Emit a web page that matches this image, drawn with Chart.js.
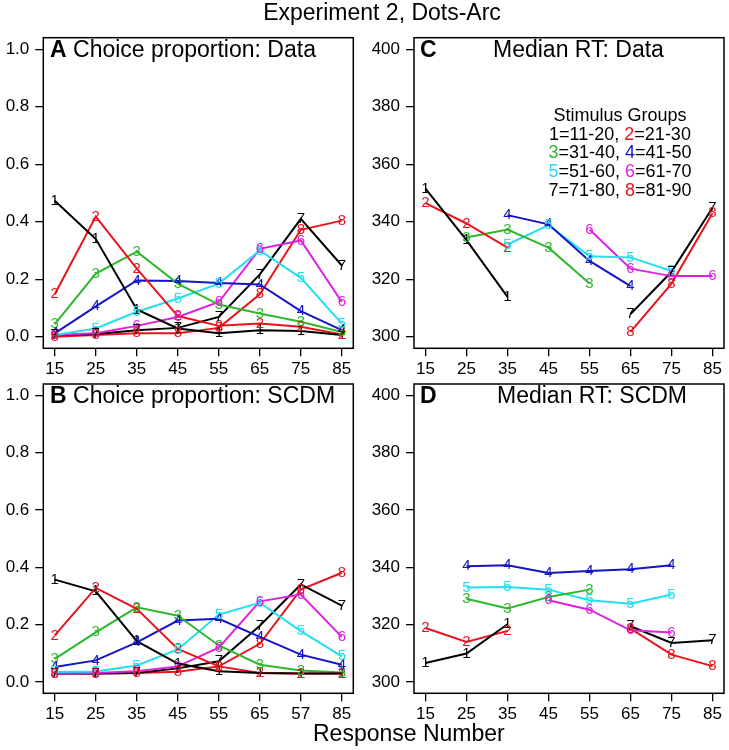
<!DOCTYPE html>
<html><head><meta charset="utf-8">
<script src="https://cdn.jsdelivr.net/npm/chart.js@4.4.1/dist/chart.umd.min.js"></script>
<style>
html,body{margin:0;padding:0;background:#fff}
body{width:729px;height:750px;position:relative;overflow:hidden;font-family:"Liberation Sans",Arial,sans-serif}
canvas{position:absolute;left:0;top:0}
.t{position:absolute;white-space:nowrap;color:#000;line-height:1}
.lg{position:absolute;left:520px;width:200px;text-align:center;font-size:18px;line-height:1;white-space:nowrap}
</style></head><body>
<canvas id="pA" width="729" height="750"></canvas>
<canvas id="pC" width="729" height="750"></canvas>
<canvas id="pB" width="729" height="750"></canvas>
<canvas id="pD" width="729" height="750"></canvas>

<div class="t" style="left:0;width:764px;text-align:center;top:0.5px;font-size:23px">Experiment 2, Dots-Arc</div>
<div class="t" style="left:50px;top:37.5px;font-size:23px"><b>A</b> Choice proportion: Data</div>
<div class="t" style="left:420px;top:37.5px;font-size:23px"><b>C</b></div>
<div class="t" style="left:493px;top:37.5px;font-size:23px">Median RT: Data</div>
<div class="t" style="left:50px;top:383.5px;font-size:23px"><b>B</b> Choice proportion: SCDM</div>
<div class="t" style="left:420px;top:383.5px;font-size:23px"><b>D</b></div>
<div class="t" style="left:497px;top:383.5px;font-size:23px">Median RT: SCDM</div>
<div class="t" style="left:313px;top:722px;font-size:23px">Response Number</div>

<div class="lg" style="top:105.8px">Stimulus Groups</div>
<div class="lg" style="top:124.8px">1=11-20, <span style="color:#e8141c">2</span>=21-30</div>
<div class="lg" style="top:143.3px"><span style="color:#2db82d">3</span>=31-40, <span style="color:#1414c8">4</span>=41-50</div>
<div class="lg" style="top:162.3px"><span style="color:#22e0ee">5</span>=51-60, <span style="color:#e020e0">6</span>=61-70</div>
<div class="lg" style="top:180.8px">7=71-80, <span style="color:#e8141c">8</span>=81-90</div>

<script>
// ---- categories & tick labels ----
const categories = [15, 25, 35, 45, 55, 65, 75, 85];
const xLabelsTop = ["15", "25", "35", "45", "55", "65", "75", "85"];
const xLabelsBottom = ["15", "25", "35", "45", "55", "65", "57", "85"];
const propTicks = [0, 0.2, 0.4, 0.6, 0.8, 1.0];
const rtTicks = [300, 320, 340, 360, 380, 400];
const groupDigits = ["1", "2", "3", "4", "5", "6", "7", "8"];

// ---- Panel A: Choice proportion, Data ----
const dataChoice1 = [0.473, 0.340, 0.095, 0.029, 0.012, 0.023, 0.020, 0.006];
const dataChoice2 = [0.148, 0.418, 0.237, 0.072, 0.038, 0.046, 0.035, 0.008];
const dataChoice3 = [0.044, 0.220, 0.296, 0.185, 0.112, 0.081, 0.052, 0.017];
const dataChoice4 = [0.012, 0.106, 0.196, 0.194, 0.187, 0.182, 0.089, 0.023];
const dataChoice5 = [0.006, 0.029, 0.087, 0.133, 0.185, 0.300, 0.205, 0.046];
const dataChoice6 = [0.006, 0.012, 0.038, 0.069, 0.121, 0.306, 0.335, 0.121];
const dataChoice7 = [0.005, 0.010, 0.023, 0.031, 0.069, 0.217, 0.410, 0.248];
const dataChoice8 = [0.000, 0.006, 0.012, 0.012, 0.031, 0.148, 0.372, 0.404];

// ---- Panel C: Median RT, Data ----
const dataRT1 = [351.5, 333.6, 313.9, null, null, null, null, null];
const dataRT2 = [346.5, 339.4, 331.0, null, null, null, null, null];
const dataRT3 = [null, 334.5, 337.3, 331.0, 318.5, null, null, null];
const dataRT4 = [null, null, 342.3, 339.1, 326.4, 317.6, null, null];
const dataRT5 = [null, null, 332.1, 338.8, 328.0, 327.6, 322.9, null];
const dataRT6 = [null, null, null, null, 337.3, 323.7, 321.1, 321.1];
const dataRT7 = [null, null, null, null, null, 307.9, 322.6, 344.9];
const dataRT8 = [null, null, null, null, null, 301.7, 318.5, 343.0];

// ---- Panel B: Choice proportion, SCDM ----
const modelChoice1 = [0.357, 0.316, 0.142, 0.064, 0.037, 0.031, 0.029, 0.029];
const modelChoice2 = [0.162, 0.328, 0.255, 0.115, 0.054, 0.031, 0.029, 0.029];
const modelChoice3 = [0.080, 0.173, 0.260, 0.231, 0.127, 0.060, 0.040, 0.033];
const modelChoice4 = [0.052, 0.075, 0.138, 0.214, 0.220, 0.157, 0.095, 0.060];
const modelChoice5 = [0.034, 0.036, 0.057, 0.113, 0.235, 0.276, 0.177, 0.089];
const modelChoice6 = [0.029, 0.031, 0.037, 0.054, 0.119, 0.281, 0.305, 0.157];
const modelChoice7 = [0.029, 0.029, 0.031, 0.047, 0.072, 0.196, 0.340, 0.266];
const modelChoice8 = [0.029, 0.029, 0.031, 0.035, 0.054, 0.133, 0.322, 0.381];

// ---- Panel D: Median RT, SCDM ----
const modelRT1 = [306.6, 309.9, 320.1, null, null, null, null, null];
const modelRT2 = [318.8, 313.9, 317.8, null, null, null, null, null];
const modelRT3 = [null, 329.0, 325.6, 329.6, 332.2, null, null, null];
const modelRT4 = [null, 340.4, 340.7, 338.0, 338.7, 339.3, 340.7, null];
const modelRT5 = [null, 332.9, 333.1, 332.2, 328.5, 327.3, 330.5, null];
const modelRT6 = [null, null, null, 328.5, 325.2, 318.0, 317.2, null];
const modelRT7 = [null, null, null, null, null, 319.4, 313.6, 314.5];
const modelRT8 = [null, null, null, null, null, 318.6, 309.5, 305.5];

const groupColors = ["#000000", "#e8141c", "#2db82d", "#1414c8", "#22e0ee", "#e020e0", "#000000", "#e8141c"];
const FONT = '"Liberation Sans", Arial, sans-serif';

const framePlugin = {
  id: 'frame',
  afterDraw(chart) {
    const a = chart.chartArea, c = chart.ctx;
    c.save(); c.strokeStyle = '#000'; c.lineWidth = 1.5;
    c.strokeRect(a.left, a.top, a.right - a.left, a.bottom - a.top);
    c.restore();
  }
};
const digitPlugin = {
  id: 'digits',
  afterDatasetsDraw(chart) {
    const c = chart.ctx;
    c.save();
    c.font = '15px ' + FONT; c.textAlign = 'center'; c.textBaseline = 'middle';
    chart.data.datasets.forEach((ds, k) => {
      const meta = chart.getDatasetMeta(k);
      meta.data.forEach((p, i) => {
        if (ds.data[i].y === null) return;
        c.fillStyle = groupColors[k];
        c.fillText(groupDigits[k], p.x, p.y);
      });
    });
    c.restore();
  }
};

function makePanel(id, pad, yAxisW, yMin, yMax, yTicks, yFmt, xLabels, series) {
  new Chart(document.getElementById(id), {
    type: 'line',
    data: {
      datasets: series.map((s, k) => ({
        label: 'Group ' + groupDigits[k],
        data: categories.map((c, i) => ({ x: c, y: s[i] })),
        borderColor: groupColors[k],
        backgroundColor: groupColors[k],
        borderWidth: 2,
        pointRadius: 0,
        tension: 0,
        fill: false,
        spanGaps: false
      }))
    },
    options: {
      responsive: false, animation: false, events: [],
      layout: { padding: pad },
      plugins: { legend: { display: false }, tooltip: { enabled: false }, title: { display: false } },
      scales: {
        x: {
          type: 'linear', min: 12.2, max: 87.8,
          afterBuildTicks: s => { s.ticks = categories.map(v => ({ value: v })); },
          afterFit: s => { s.height = 31.7; },
          ticks: { callback: (v, i) => xLabels[i], font: { size: 17, family: FONT }, color: '#000', padding: 3, autoSkip: false, maxRotation: 0 },
          grid: { drawOnChartArea: false, tickLength: 8, color: '#000', lineWidth: 1.3 },
          border: { display: false }
        },
        y: {
          type: 'linear', min: yMin, max: yMax,
          afterBuildTicks: s => { s.ticks = yTicks.map(v => ({ value: v })); },
          afterFit: s => { s.width = yAxisW; },
          ticks: { callback: v => yFmt(v), font: { size: 17, family: FONT }, color: '#000', padding: 6 },
          grid: { drawOnChartArea: false, tickLength: 8, color: '#000', lineWidth: 1.3 },
          border: { display: false }
        }
      }
    },
    plugins: [framePlugin, digitPlugin]
  });
}

const fmtProp = v => v.toFixed(1);
const fmtRT = v => String(v);

makePanel('pA', { left: 0, top: 37.7, right: 375.7, bottom: 370 }, 43.3, -0.04, 1.04, propTicks, fmtProp, xLabelsTop,
  [dataChoice1, dataChoice2, dataChoice3, dataChoice4, dataChoice5, dataChoice6, dataChoice7, dataChoice8]);
makePanel('pC', { left: 364, top: 37.7, right: 5, bottom: 370 }, 50, 296, 404, rtTicks, fmtRT, xLabelsTop,
  [dataRT1, dataRT2, dataRT3, dataRT4, dataRT5, dataRT6, dataRT7, dataRT8]);
makePanel('pB', { left: 0, top: 384, right: 375.7, bottom: 25 }, 43.3, -0.04, 1.04, propTicks, fmtProp, xLabelsBottom,
  [modelChoice1, modelChoice2, modelChoice3, modelChoice4, modelChoice5, modelChoice6, modelChoice7, modelChoice8]);
makePanel('pD', { left: 364, top: 384, right: 5, bottom: 25 }, 50, 296, 404, rtTicks, fmtRT, xLabelsTop,
  [modelRT1, modelRT2, modelRT3, modelRT4, modelRT5, modelRT6, modelRT7, modelRT8]);
</script>
</body></html>
